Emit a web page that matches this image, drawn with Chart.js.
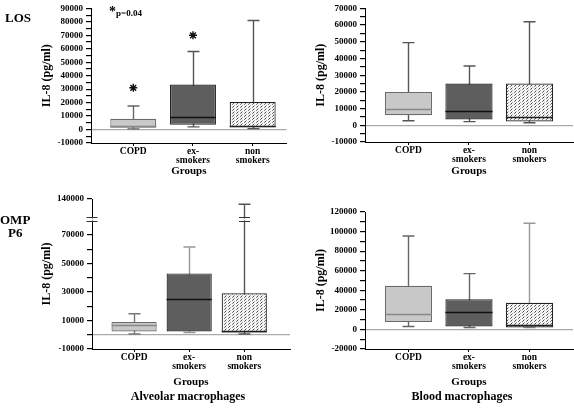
<!DOCTYPE html>
<html>
<head>
<meta charset="utf-8">
<script src="https://cdn.jsdelivr.net/npm/chart.js@4"></script>
<style>
  body { margin: 0; background: #fff; }
  #fig { position: relative; width: 574px; height: 410px; font-family: "Liberation Serif", serif; font-weight: bold; color: #000; }
  #fig canvas { position: absolute; }
  .lbl { position: absolute; font-size: 13px; line-height: 13px; white-space: nowrap; }
  .cap { position: absolute; font-size: 12px; line-height: 12px; white-space: nowrap; transform: translateX(-50%); }
</style>
</head>
<body>
<div id="fig">
  <canvas id="c-los-alv" width="292" height="182" style="left:0;top:0"></canvas>
  <canvas id="c-los-bld" width="284" height="182" style="left:290px;top:0"></canvas>
  <canvas id="c-omp-alv" width="292" height="200" style="left:0;top:190px"></canvas>
  <canvas id="c-omp-bld" width="284" height="200" style="left:290px;top:190px"></canvas>

  <div class="lbl" style="left:5px;top:11px">LOS</div>
  <div class="lbl" style="left:0;top:213px">OMP</div>
  <div class="lbl" style="left:8px;top:226px">P6</div>
  <div class="lbl" style="left:109px;top:5px"><span style="font-size:14px">*</span><span style="font-size:9px">p=0.04</span></div>
  <div class="cap" style="left:188px;top:390px">Alveolar macrophages</div>
  <div class="cap" style="left:462px;top:390px">Blood macrophages</div>
</div>

<script>
// ── Data ───────────────────────────────────────────────
const groups   = ['COPD', ['ex-', 'smokers'], ['non', 'smokers']];
const groupPos = [1, 2, 3];

// LOS – alveolar macrophages
const losAlvMin = [500, 2000, 700];
const losAlvQ1  = [1300, 3500, 1700];
const losAlvMed = [3000, 9500, 2500];
const losAlvQ3  = [8000, 33500, 20500];
const losAlvMax = [17500, 58000, 81000];
const losAlvStarX = [1, 2];
const losAlvStarY = [31000, 70000];
const losAlvTicks = [-10000, 0, 10000, 20000, 30000, 40000, 50000, 60000, 70000, 80000, 90000];
const losAlvMinor = [-5000, 5000, 15000, 25000, 35000, 45000, 55000, 65000, 75000, 85000];

// LOS – blood macrophages
const losBldMin = [2700, 2200, 1500];
const losBldQ1  = [6000, 3500, 2300];
const losBldMed = [9500, 8500, 4800];
const losBldQ3  = [20000, 25000, 25000];
const losBldMax = [49500, 35500, 62000];
const losBldTicks = [-10000, 0, 10000, 20000, 30000, 40000, 50000, 60000, 70000];
const losBldMinor = [-5000, 5000, 15000, 25000, 35000, 45000, 55000, 65000];

// OMP P6 – alveolar macrophages (axis broken between 80000 and 120000)
const ompAlvMin = [500, 1600, 500];
const ompAlvQ1  = [2300, 2300, 1600];
const ompAlvMed = [6500, 25000, 2500];
const ompAlvQ3  = [9000, 43000, 29000];
const ompAlvMax = [14700, 61500, 134000];
const ompAlvTicks = [-10000, 10000, 30000, 50000, 70000, 140000];
const ompAlvMinor = [0, 20000, 40000, 60000];

// OMP P6 – blood macrophages
const ompBldMin = [3000, 2000, 2000];
const ompBldQ1  = [7500, 3000, 2000];
const ompBldMed = [15500, 17500, 4500];
const ompBldQ3  = [44700, 30800, 27200];
const ompBldMax = [95500, 57000, 108500];
const ompBldTicks = [-20000, 0, 20000, 40000, 60000, 80000, 100000, 120000];
const ompBldMinor = [-10000, 10000, 30000, 50000, 70000, 90000, 110000];

// ── Styles ─────────────────────────────────────────────
Chart.defaults.font.family = '"Liberation Serif", "Times New Roman", serif';
Chart.defaults.font.weight = 'bold';
Chart.defaults.color = '#000';

const CAP = 12;

function hatch() {
  const c = document.createElement('canvas');
  c.width = 4; c.height = 3;
  const g = c.getContext('2d');
  g.fillStyle = '#f6f6f6';
  g.fillRect(0, 0, 4, 3);
  g.strokeStyle = '#333';
  g.lineWidth = 0.9;
  g.beginPath(); g.moveTo(0.3, 2.7); g.lineTo(2.4, 0.6); g.stroke();
  return g.createPattern(c, 'repeat');
}
const boxFill   = ['#c8c8c8', '#5e5e5e', hatch()];
const boxBorder = ['#6a6a6a', '#222', '#222'];
const medColor  = ['#888', '#111', '#222'];

// ── Broken linear axis (used by OMP P6 alveolar) ───────
class BrokenLinear extends Chart.LinearScale {
  _dec(v) {
    const b = this.options.brk;
    const hiFrac = b.lowFrac + b.gapFrac;
    if (v <= b.low) return (v - this.min) / (b.low - this.min) * b.lowFrac;
    if (v >= b.high) return hiFrac + (v - b.high) / (this.max - b.high) * (1 - hiFrac);
    return b.lowFrac + (v - b.low) / (b.high - b.low) * b.gapFrac;
  }
  getPixelForValue(v) {
    if (v === null || v === undefined) return NaN;
    return this.getPixelForDecimal(this._dec(v));
  }
}
BrokenLinear.id = 'brokenLinear';
BrokenLinear.defaults = {};
Chart.register(BrokenLinear);

// ── Box plot plugin ────────────────────────────────────
function boxPlot(s) {
  return {
    id: 'boxPlot',
    beforeDatasetsDraw(chart) {
      const { ctx, scales: { x, y } } = chart;
      ctx.save();
      ctx.lineWidth = 1.4;
      groupPos.forEach((g, i) => {
        const px = Math.round(x.getPixelForValue(g)) + 0.5;
        const top = y.getPixelForValue(s.max[i]);
        const bot = y.getPixelForValue(s.min[i]);
        ctx.strokeStyle = s.whisker[i];
        ctx.beginPath();
        ctx.moveTo(px, top); ctx.lineTo(px, bot);
        ctx.moveTo(px - CAP / 2, top); ctx.lineTo(px + CAP / 2, top);
        ctx.moveTo(px - CAP / 2, bot); ctx.lineTo(px + CAP / 2, bot);
        ctx.stroke();
      });
      ctx.restore();
    },
    afterDatasetsDraw(chart) {
      const { ctx, scales: { x, y } } = chart;
      const bars = chart.getDatasetMeta(0).data;
      ctx.save();
      ctx.lineWidth = 1.3;
      bars.forEach((bar, i) => {
        const py = Math.round(y.getPixelForValue(s.med[i])) + 0.5;
        ctx.strokeStyle = medColor[i];
        ctx.beginPath();
        ctx.moveTo(bar.x - bar.width / 2, py);
        ctx.lineTo(bar.x + bar.width / 2, py);
        ctx.stroke();
      });
      // break marks "=" on axis and on any whisker crossing the break
      const b = y.options.brk;
      if (b) {
        const yl = Math.round(y.getPixelForValue(b.low)) + 0.5;
        const yh = Math.round(y.getPixelForValue(b.high)) + 0.5;
        const xs = [chart.chartArea.left];
        groupPos.forEach((g, i) => { if (s.max[i] > b.high) xs.push(Math.round(x.getPixelForValue(g)) + 0.5); });
        ctx.strokeStyle = '#333';
        ctx.lineWidth = 1;
        xs.forEach(px => {
          ctx.fillStyle = '#fff';
          ctx.fillRect(px - 1, yh + 1, 2, yl - yh - 2);
          ctx.beginPath();
          ctx.moveTo(px - 5.5, yh); ctx.lineTo(px + 5.5, yh);
          ctx.moveTo(px - 5.5, yl); ctx.lineTo(px + 5.5, yl);
          ctx.stroke();
        });
      }
      ctx.restore();
    }
  };
}

// ── Panel builder ──────────────────────────────────────
function panel(id, p) {
  const datasets = [{
    data: groupPos.map((g, i) => ({ x: g, y: [p.q1[i], p.q3[i]] })),
    backgroundColor: boxFill,
    borderColor: boxBorder,
    borderWidth: 1.2,
    borderSkipped: false,
    barPercentage: p.barPct,
    categoryPercentage: 1
  }];
  if (p.starX) {
    datasets.push({
      type: 'scatter',
      data: p.starX.map((sx, i) => ({ x: sx, y: p.starY[i] })),
      pointStyle: 'star',
      radius: 4,
      borderWidth: 1.4,
      borderColor: '#111',
      backgroundColor: '#111'
    });
  }
  const allTicks = p.ticks.concat(p.minor).sort((a, b) => a - b);

  return new Chart(document.getElementById(id), {
    type: 'bar',
    data: { datasets },
    plugins: [boxPlot({ min: p.min, med: p.med, max: p.max, whisker: p.whisker })],
    options: {
      responsive: false,
      animation: false,
      events: [],
      devicePixelRatio: 1,
      layout: { padding: p.pad },
      plugins: { legend: { display: false }, tooltip: { enabled: false } },
      scales: {
        x: {
          type: 'linear',
          min: p.xMin, max: p.xMax,
          offset: false,
          afterFit: s => { s.height = p.xH; },
          afterBuildTicks: s => { s.ticks = groupPos.map(v => ({ value: v })); },
          ticks: {
            autoSkip: false, maxRotation: 0, padding: 2,
            font: { size: 9.5, lineHeight: 0.85 },
            callback: v => groups[groupPos.indexOf(v)]
          },
          grid: { color: 'transparent', tickColor: '#000', tickLength: 3, offset: false },
          border: { color: '#000', width: 1 },
          title: { display: true, text: 'Groups', font: { size: 11 }, padding: { top: 0, bottom: p.xTitlePad } }
        },
        y: Object.assign({
          type: p.yType || 'linear',
          min: p.yMin, max: p.yMax,
          afterFit: s => { s.width = p.yW; },
          afterBuildTicks: s => { s.ticks = allTicks.map(v => ({ value: v })); },
          ticks: {
            autoSkip: false, padding: 3,
            font: { size: 9 },
            callback: v => p.ticks.includes(v) ? String(v) : ''
          },
          grid: {
            color: c => (c.tick && c.tick.value === 0) ? '#aaa' : 'transparent',
            lineWidth: 1.2,
            tickColor: '#000',
            tickLength: 5
          },
          border: { color: '#000', width: 1 },
          title: { display: true, text: 'IL-8 (pg/ml)', font: { size: 12 }, padding: { top: p.yTitlePad, bottom: 0 } }
        }, p.yExtra || {})
      }
    }
  });
}

// ── Draw ───────────────────────────────────────────────
panel('c-los-alv', {
  min: losAlvMin, q1: losAlvQ1, med: losAlvMed, q3: losAlvQ3, max: losAlvMax,
  starX: losAlvStarX, starY: losAlvStarY,
  ticks: losAlvTicks, minor: losAlvMinor, yMin: -10000, yMax: 90000,
  whisker: ['#666', '#555', '#555'],
  xMin: 0.292, xMax: 3.568, barPct: 0.77,
  pad: { top: 5, right: 2, left: 0, bottom: 0 }, yW: 91, xH: 39,
  yTitlePad: 40, xTitlePad: 4
});

panel('c-los-bld', {
  min: losBldMin, q1: losBldQ1, med: losBldMed, q3: losBldQ3, max: losBldMax,
  ticks: losBldTicks, minor: losBldMinor, yMin: -10000, yMax: 70000,
  whisker: ['#555', '#555', '#555'],
  xMin: 0.281, xMax: 3.72, barPct: 0.78,
  pad: { top: 5, right: 1, left: 0, bottom: 0 }, yW: 75, xH: 40,
  yTitlePad: 24, xTitlePad: 4
});

panel('c-omp-alv', {
  min: ompAlvMin, q1: ompAlvQ1, med: ompAlvMed, q3: ompAlvQ3, max: ompAlvMax,
  ticks: ompAlvTicks, minor: ompAlvMinor, yMin: -10000, yMax: 140000,
  yType: 'brokenLinear',
  yExtra: { brk: { low: 80000, high: 120000, lowFrac: 0.856, gapFrac: 0.027 } },
  whisker: ['#777', '#999', '#555'],
  xMin: 0.236, xMax: 3.83, barPct: 0.82,
  pad: { top: 9, right: 2, left: 0, bottom: 0 }, yW: 92, xH: 41,
  yTitlePad: 40, xTitlePad: 1.5
});

panel('c-omp-bld', {
  min: ompBldMin, q1: ompBldQ1, med: ompBldMed, q3: ompBldQ3, max: ompBldMax,
  ticks: ompBldTicks, minor: ompBldMinor, yMin: -20000, yMax: 120000,
  whisker: ['#666', '#666', '#999'],
  xMin: 0.281, xMax: 3.72, barPct: 0.78,
  pad: { top: 22, right: 1, left: 0, bottom: 0 }, yW: 75, xH: 41,
  yTitlePad: 24, xTitlePad: 1.5
});
</script>
</body>
</html>
